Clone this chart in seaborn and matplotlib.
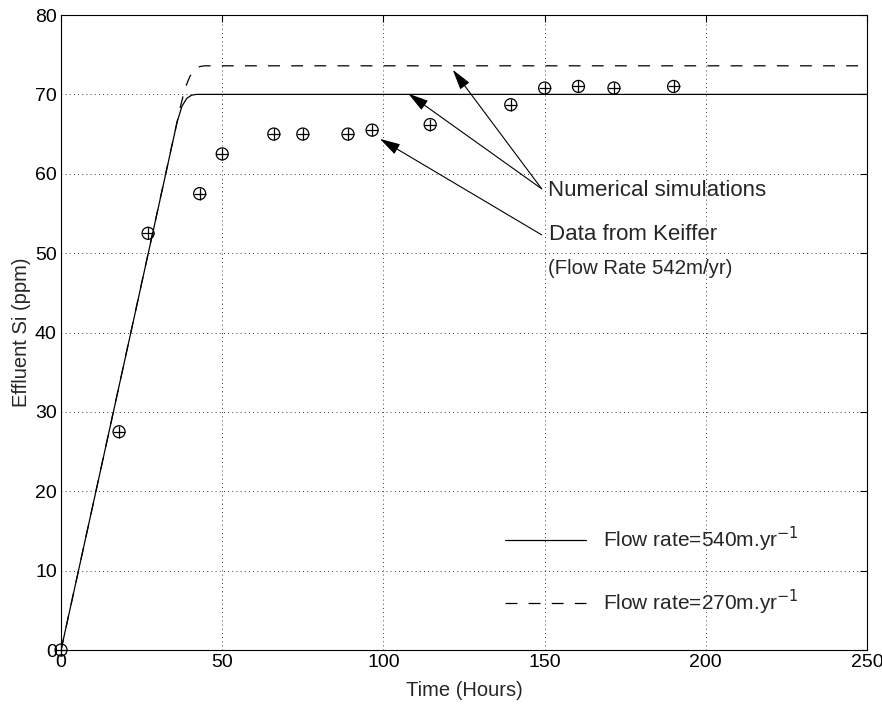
import matplotlib
matplotlib.use("Agg")
import matplotlib.pyplot as plt
import seaborn as sns
import pandas as pd

# Measured data (Keiffer)
data_time = [0, 18, 27, 43, 50, 66, 75, 89, 96.5, 114.5, 139.5, 150, 160.5, 171.5, 190]
data_si = [0, 27.5, 52.5, 57.5, 62.5, 65, 65, 65, 65.5, 66.2, 68.7, 70.8, 71.0, 70.8, 71.0]

# Numerical simulation, flow rate 540 m/yr
sim540_time = [0, 36, 37.5, 39, 40.5, 42, 250]
sim540_si = [0, 66.5, 68.5, 69.5, 69.9, 70.0, 70.0]

# Numerical simulation, flow rate 270 m/yr
sim270_time = [0, 37, 38.5, 40, 41.5, 43, 44.5, 250]
sim270_si = [0, 68.4, 70.8, 72.3, 73.1, 73.5, 73.6, 73.6]

x_ticks = [0, 50, 100, 150, 200, 250]
y_ticks = [0, 10, 20, 30, 40, 50, 60, 70, 80]

sns.set_style("white")
plt.rcParams['font.family'] = ['Liberation Sans', 'DejaVu Sans']
plt.rcParams['font.size'] = 14

fig = plt.figure(figsize=(8.82, 7.08), dpi=100)
ax = fig.add_axes([0.0692, 0.0819, 0.9138, 0.8969])

df540 = pd.DataFrame({"t": sim540_time, "si": sim540_si})
df270 = pd.DataFrame({"t": sim270_time, "si": sim270_si})
dfd = pd.DataFrame({"t": data_time, "si": data_si})

sns.lineplot(data=df540, x="t", y="si", ax=ax, color="black", lw=0.9,
             label="Flow rate=540m.yr$^{-1}$", sort=False, estimator=None)
sns.lineplot(data=df270, x="t", y="si", ax=ax, color="black", lw=0.9,
             linestyle=(0, (9.5, 9)), label="Flow rate=270m.yr$^{-1}$",
             sort=False, estimator=None)
sns.scatterplot(data=dfd, x="t", y="si", ax=ax, marker="o", s=75,
                facecolor="none", edgecolor="black", linewidth=0.9,
                clip_on=False, zorder=5, legend=False)
sns.scatterplot(data=dfd, x="t", y="si", ax=ax, marker="+", s=75,
                color="black", linewidth=0.9, clip_on=False, zorder=5,
                legend=False)

ax.set_xlim(0, 250)
ax.set_ylim(0, 80)
ax.set_xticks(x_ticks)
ax.set_yticks(y_ticks)
ax.grid(True, color="black", linestyle=(0, (1, 4)), linewidth=0.6)
ax.tick_params(direction="in", length=5, width=0.8, top=True, right=True,
               labelsize=14, pad=3, colors="black")
for s in ax.spines.values():
    s.set_color("black")
    s.set_linewidth(0.8)

ax.set_xlabel("Time (Hours)", fontsize=14.5, labelpad=7)
ax.set_ylabel("Effluent Si (ppm)", fontsize=14.5, labelpad=3)

arrow = dict(arrowstyle="-|>,head_length=0.9,head_width=0.25", color="black",
             lw=0.8, shrinkA=0, shrinkB=0)
ax.annotate("", xy=(121.5, 73.1), xytext=(149.1, 58.1), arrowprops=arrow)
ax.annotate("", xy=(107.7, 70.1), xytext=(149.1, 58.1), arrowprops=arrow)
ax.annotate("", xy=(98.9, 64.4), xytext=(149.1, 52.3), arrowprops=arrow)
ax.text(151.2, 57.9, "Numerical simulations", fontsize=16, va="center", ha="left")
ax.text(151.5, 52.3, "Data from Keiffer", fontsize=16, va="center", ha="left")
ax.text(151.0, 48.1, "(Flow Rate 542m/yr)", fontsize=14.7, va="center", ha="left")

leg = ax.legend(loc="center left", bbox_to_anchor=(0.551, 0.1245), frameon=False,
                fontsize=15, handlelength=3.9, handletextpad=0.8,
                labelspacing=1.6, borderpad=0, borderaxespad=0)

fig.savefig("out.png", dpi=100)
